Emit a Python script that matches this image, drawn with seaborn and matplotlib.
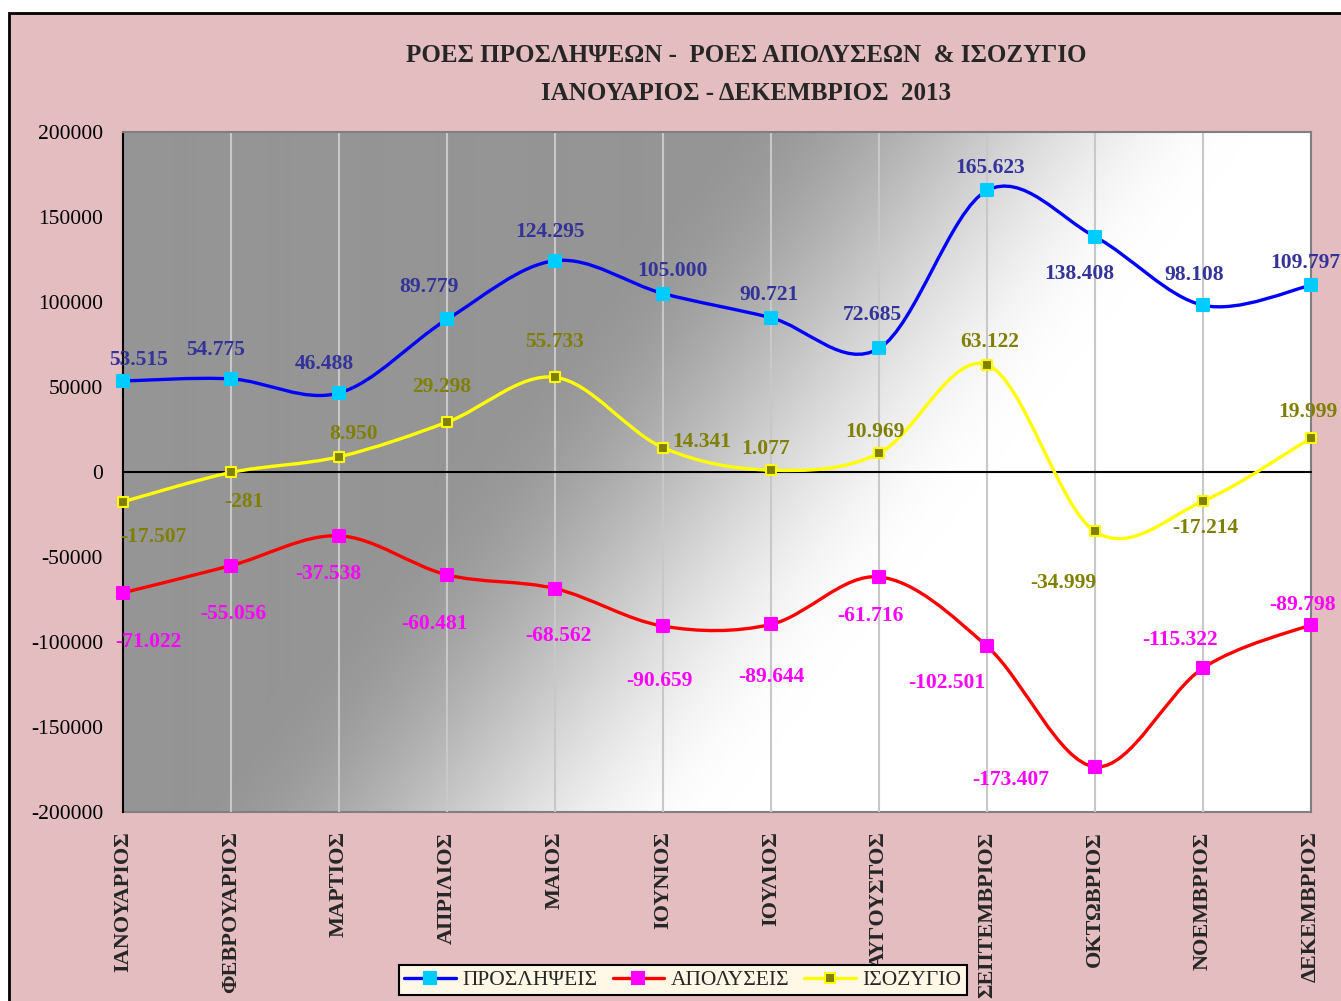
import numpy as np
import pandas as pd
import matplotlib
matplotlib.use("Agg")
import matplotlib.pyplot as plt
import seaborn as sns
from matplotlib.path import Path
from matplotlib.patches import PathPatch, Rectangle
from matplotlib.lines import Line2D
from matplotlib.ticker import FuncFormatter

# ---------------- data ----------------
months = ["ΙΑΝΟΥΑΡΙΟΣ", "ΦΕΒΡΟΥΑΡΙΟΣ", "ΜΑΡΤΙΟΣ", "ΑΠΡΙΛΙΟΣ", "ΜΑΙΟΣ", "ΙΟΥΝΙΟΣ",
          "ΙΟΥΛΙΟΣ", "ΑΥΓΟΥΣΤΟΣ", "ΣΕΠΤΕΜΒΡΙΟΣ", "ΟΚΤΩΒΡΙΟΣ", "ΝΟΕΜΒΡΙΟΣ", "ΔΕΚΕΜΒΡΙΟΣ"]
hires = [53515, 54775, 46488, 89779, 124295, 105000, 90721, 72685, 165623, 138408, 98108, 109797]
fires = [-71022, -55056, -37538, -60481, -68562, -90659, -89644, -61716, -102501, -173407, -115322, -89798]
balance = [-17507, -281, 8950, 29298, 55733, 14341, 1077, 10969, 63122, -34999, -17214, 19999]
series_names = ["ΠΡΟΣΛΗΨΕΙΣ", "ΑΠΟΛΥΣΕΙΣ", "ΙΣΟΖΥΓΙΟ"]
yticks = list(range(-200000, 200001, 50000))
title1 = "ΡΟΕΣ ΠΡΟΣΛΗΨΕΩΝ -  ΡΟΕΣ ΑΠΟΛΥΣΕΩΝ  & ΙΣΟΖΥΓΙΟ"
title2 = "ΙΑΝΟΥΑΡΙΟΣ - ΔΕΚΕΜΒΡΙΟΣ  2013"

# ---------------- styling ----------------
line_colors = ["#0000FF", "#FF0000", "#FFFF00"]
marker_face = ["#00CCFF", "#FF00FF", "#808000"]
marker_edge = ["#00CCFF", "#FF00FF", "#FFFF00"]
marker_size = [8.5, 8.5, 7.0]
label_colors = ["#333399", "#FF00FF", "#808000"]
# label offsets in pixels (dx, dy) relative to each point
label_offsets = [
    [(15, 21), (-15, 29), (-15, 29), (-18, 32), (-5, 29), (9, 23), (-2, 23), (-7, 33),
     (3, 22), (-16, -37), (-9, 30), (-6, 22)],
    [(25, -49), (2, -48), (-11, -38), (-13, -49), (3, -47), (-4, -55), (0, -53), (-9, -39),
     (-40, -37), (-84, -13), (-23, 28), (-8, 20)],
    [(30, -35), (13, -30), (15, 23), (-5, 35), (-1, 35), (39, 6), (-5, 21), (-4, 21),
     (3, 23), (-32, -52), (2, -27), (-3, 26)],
]

sns.set_style("white")
plt.rcParams["font.family"] = ["Liberation Serif", "DejaVu Serif"]
plt.rcParams["axes.unicode_minus"] = False

W_PX, H_PX = 1341, 1001
fig = plt.figure(figsize=(W_PX / 100, H_PX / 100), dpi=100, facecolor="white")

# pink outer panel with black border
panel = Rectangle((9 / W_PX, -0.05), 1.2, 1 - 12.5 / H_PX + 0.05, transform=fig.transFigure,
                  facecolor="#E3BDBF", edgecolor="black", lw=2, zorder=-10)
fig.patches.append(panel)

left, right, top, bottom = 123, 1311, 132, 812
ax = fig.add_axes([left / W_PX, 1 - bottom / H_PX, (right - left) / W_PX, (bottom - top) / H_PX])
ax.set_facecolor("none")

# gradient background of the plot area
Wa, Ha = right - left, bottom - top
yy, xx = np.mgrid[0:Ha, 0:Wa]
s = xx + 0.78 * yy
t = np.clip((s - 590) / 540.0, 0, 1)
t = t * t * (3 - 2 * t)
g = (149 + 106 * t) / 255.0
img = np.dstack([g, g, g])
ax.imshow(img, extent=[0, 1, 0, 1], transform=ax.transAxes, aspect="auto",
          origin="upper", zorder=0, interpolation="bilinear")

x = np.arange(len(months))
all_series = [hires, fires, balance]


def smooth_path(xs, ys):
    P = np.column_stack([xs, ys]).astype(float)
    n = len(P)
    verts = [P[0]]
    codes = [Path.MOVETO]
    for i in range(n - 1):
        p0 = P[i - 1] if i > 0 else P[i]
        p1, p2 = P[i], P[i + 1]
        p3 = P[i + 2] if i + 2 < n else P[i + 1]
        verts += [p1 + (p2 - p0) / 6.0, p2 - (p3 - p1) / 6.0, p2]
        codes += [Path.CURVE4] * 3
    return Path(verts, codes)


for k, vals in enumerate(all_series):
    ax.add_patch(PathPatch(smooth_path(x, vals), fill=False, edgecolor=line_colors[k],
                           lw=2.4, zorder=3, capstyle="round", joinstyle="round"))
    df = pd.DataFrame({"m": x, "v": vals})
    sns.scatterplot(data=df, x="m", y="v", ax=ax, marker="s", s=marker_size[k] ** 2,
                    color=marker_face[k], edgecolor=marker_edge[k], linewidth=1.5,
                    zorder=4, legend=False, clip_on=False)
    for i, v in enumerate(vals):
        txt = f"{v:,}".replace(",", ".")
        ax.annotate(txt, xy=(i, v), xytext=label_offsets[k][i], textcoords="offset pixels",
                    ha="center", va="center", fontsize=15.5, fontweight="bold",
                    color=label_colors[k], zorder=6, annotation_clip=False)

ax.set_xlim(0, 11)
ax.set_ylim(-200000, 200000)
ax.set_xlabel("")
ax.set_ylabel("")

# y axis
ax.set_yticks(yticks)
ax.yaxis.set_major_formatter(FuncFormatter(lambda v, p: f"{int(v)}"))
ax.tick_params(axis="y", direction="inout", length=9.4, width=1.5, pad=9.7,
               labelsize=15.5, colors="black")
ax.spines["left"].set_color("black")
ax.spines["left"].set_linewidth(1.5)

# x axis line at zero with tick marks
ax.spines["bottom"].set_position(("data", 0))
ax.spines["bottom"].set_color("black")
ax.spines["bottom"].set_linewidth(1.5)
ax.set_xticks(x)
ax.set_xticklabels([])
ax.tick_params(axis="x", direction="inout", length=10, width=1.5, colors="black")
for sp in ["top", "right"]:
    ax.spines[sp].set_color("#808080")
    ax.spines[sp].set_linewidth(1.5)
ax.grid(axis="x", color="#C8C8C8", lw=1.5)
ax.grid(axis="y", visible=False)

# category labels at the bottom of the plot area
sec = ax.secondary_xaxis(0)
sec.set_xticks(x)
sec.set_xticklabels(months, rotation=90, fontsize=16, fontweight="bold")
sec.tick_params(axis="x", length=0, pad=14)
sec.spines["bottom"].set_color("#808080")
sec.spines["bottom"].set_linewidth(1.5)

# titles
fig.text(746 / W_PX, 1 - 55 / H_PX, title1, ha="center", va="center", fontsize=18, fontweight="bold")
fig.text(746 / W_PX, 1 - 94 / H_PX, title2, ha="center", va="center", fontsize=18, fontweight="bold")

# legend
handles = [Line2D([], [], color=line_colors[k], lw=2.4, marker="s", markersize=marker_size[k],
                  markerfacecolor=marker_face[k], markeredgecolor=marker_edge[k], markeredgewidth=1.5)
           for k in range(3)]
leg = ax.legend(handles, series_names, ncol=3, loc="center",
                bbox_to_anchor=(683 / W_PX, 1 - 980 / H_PX), bbox_transform=fig.transFigure,
                frameon=True, fancybox=False, edgecolor="black", facecolor="#FFF8E6",
                framealpha=1, fontsize=15.5, handlelength=2.4, handletextpad=0.3,
                columnspacing=0.7, borderpad=0.25, borderaxespad=0)
leg.get_frame().set_linewidth(1.5)
leg.set_zorder(10)

fig.savefig("out.png", dpi=100)
